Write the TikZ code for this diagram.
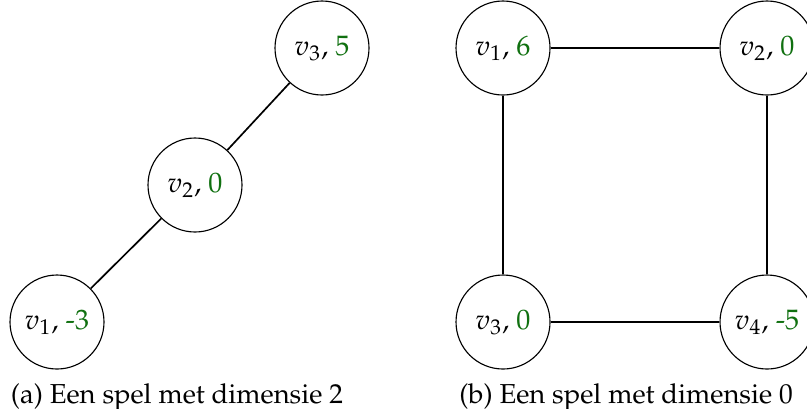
\documentclass[tikz,border=0pt]{standalone}
\usepackage[T1]{fontenc}
\usepackage{mathpazo}
\definecolor{pay}{RGB}{16,112,16}

\begin{document}
\begin{tikzpicture}[
                vert/.style = {draw, circle, inner sep = 0mm, minimum size = 11.75mm},
                edge/.style = {draw, semithick},
                caption/.style = {inner sep = 0mm, font = \fontsize{9.75}{12}\selectfont},
            ]
            \useasboundingbox (0, 0) rectangle (10.0875, 5.1);

            % dimensie 2
            \node (A1) at (0.7125, 1.075) [vert] {$v_1$, \textcolor{pay}{-3}};
            \node (A2) at (2.4375, 2.7875) [vert] {$v_2$, \textcolor{pay}{0}};
            \node (A3) at (4.025, 4.5) [vert] {$v_3$, \textcolor{pay}{5}};

            \path[edge] (A1) -- (A2);
            \path[edge] (A2) -- (A3);

            % dimensie 0
            \node (B1) at (6.2875, 4.5) [vert] {$v_1$, \textcolor{pay}{6}};
            \node (B2) at (9.5875, 4.5) [vert] {$v_2$, \textcolor{pay}{0}};
            \node (B3) at (6.2875, 1.075) [vert] {$v_3$, \textcolor{pay}{0}};
            \node (B4) at (9.5875, 1.075) [vert] {$v_4$, \textcolor{pay}{-5}};

            \path[edge] (B1) -- (B2);
            \path[edge] (B1) -- (B3);
            \path[edge] (B3) -- (B4);
            \path[edge] (B2) -- (B4);

            \node (capA) at (2.2125, 0.13) [caption] {(a) Een spel met dimensie 2};
            \node (capB) at (7.825, 0.13) [caption] {(b) Een spel met dimensie 0};
        \end{tikzpicture}
\end{document}
